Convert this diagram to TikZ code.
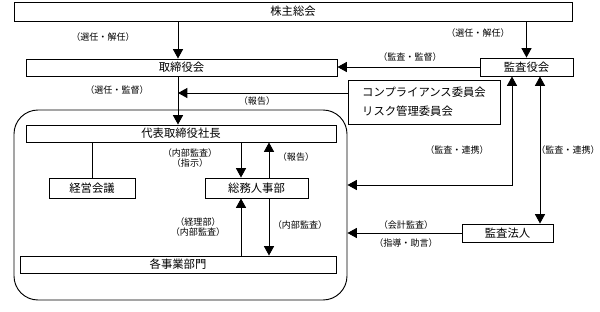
\documentclass[tikz,border=0pt]{standalone}
\usepackage{fontspec}
\setmainfont{Noto Sans CJK JP}
\usetikzlibrary{arrows.meta}

\begin{document}
\begin{tikzpicture}[x=0.75pt, y=-0.75pt, line width=0.7pt,
    box/.style 2 args={draw, minimum width=#1*0.75pt, minimum height=#2*0.75pt, inner sep=0pt, font=\fontsize{8.5}{10}\selectfont},
    lbl/.style={font=\fontsize{6.8}{8}\selectfont, inner sep=0pt},
    arr/.style={-{Triangle[width=7.5pt,length=7pt]}},
    arrs/.style={{Triangle[width=7.5pt,length=7pt]}-{Triangle[width=7.5pt,length=7pt]}}]
                \useasboundingbox (0,0) rectangle (600,311);
                \node[draw, rounded corners=18pt, minimum width=333*0.75pt, minimum height=190*0.75pt] (group) at (180.5,205) {};
                \node[box={558}{19}] (soukai) at (293,11.5) {株主総会};
                \node[box={311}{17}] (torishimari) at (181.5,67.5) {取締役会};
                \node[box={93}{18}] (kansayaku) at (526.5,67) {監査役会};
                \node[box={152}{44}, align=left, font=\fontsize{8.5}{14.3}\selectfont] (iinkai) at (424,102) {コンプライアンス委員会\\リスク管理委員会};
                \node[box={310}{17}] (shacho) at (181,133.5) {代表取締役社長};
                \node[box={86}{20}] (keiei) at (92,188) {経営会議};
                \node[box={103}{20}] (soumu) at (256.5,188) {総務人事部};
                \node[box={316}{17}] (jigyo) at (178,264.5) {各事業部門};
                \node[box={91}{18}] (houjin) at (507.5,233) {監査法人};
                \coordinate (mid) at (178,93);
                \coordinate (dn) at (241,0);
                \coordinate (up) at (269,0);
                \coordinate (k1) at (512,185);
                \coordinate (k2) at (540,0);
                \draw[arr] (soukai.south -| mid) -- (torishimari.north -| mid);
                \draw[arr] (soukai.south -| kansayaku) -- (kansayaku.north);
                \draw[arr] (kansayaku.west) -- (torishimari.east |- kansayaku.west);
                \draw[arr] (torishimari.south -| mid) -- (shacho.north -| mid);
                \draw[arr] (iinkai.west |- mid) -- (mid);
                \draw (shacho.south -| keiei) -- (keiei.north);
                \draw[arr] (shacho.south -| dn) -- (soumu.north -| dn);
                \draw[arr] (soumu.north -| up) -- (shacho.south -| up);
                \draw[arr] (jigyo.north -| dn) -- (soumu.south -| dn);
                \draw[arr] (soumu.south -| up) -- (jigyo.north -| up);
                \draw[arr] (houjin.west) -- (group.east |- houjin.west);
                \draw[arrs] (group.east |- k1) -- (k1) -- (kansayaku.south -| k1);
                \draw[arrs] (kansayaku.south -| k2) -- (houjin.north -| k2);
                \node[lbl] (l1) at (103,37) {（選任・解任）};
                \node[lbl] (l2) at (478,33) {（選任・解任）};
                \node[lbl] (l3) at (410,57) {（監査・監督）};
                \node[lbl] (l4) at (117,90) {（選任・監督）};
                \node[lbl] (l5) at (257,101) {（報告）};
                \node[lbl, align=center] (l6) at (190,158) {（内部監査）\\（指示）};
                \node[lbl] (l7) at (296,157) {（報告）};
                \node[lbl, align=center] (l8) at (198,227) {（経理部）\\（内部監査）};
                \node[lbl] (l9) at (300,225) {（内部監査）};
                \node[lbl] (l10) at (406,225) {（会計監査）};
                \node[lbl] (l11) at (406,243) {（指導・助言）};
                \node[lbl] (l12) at (457,150) {（監査・連携）};
                \node[lbl] (l13) at (568,150) {（監査・連携）};
            \end{tikzpicture}
\end{document}
